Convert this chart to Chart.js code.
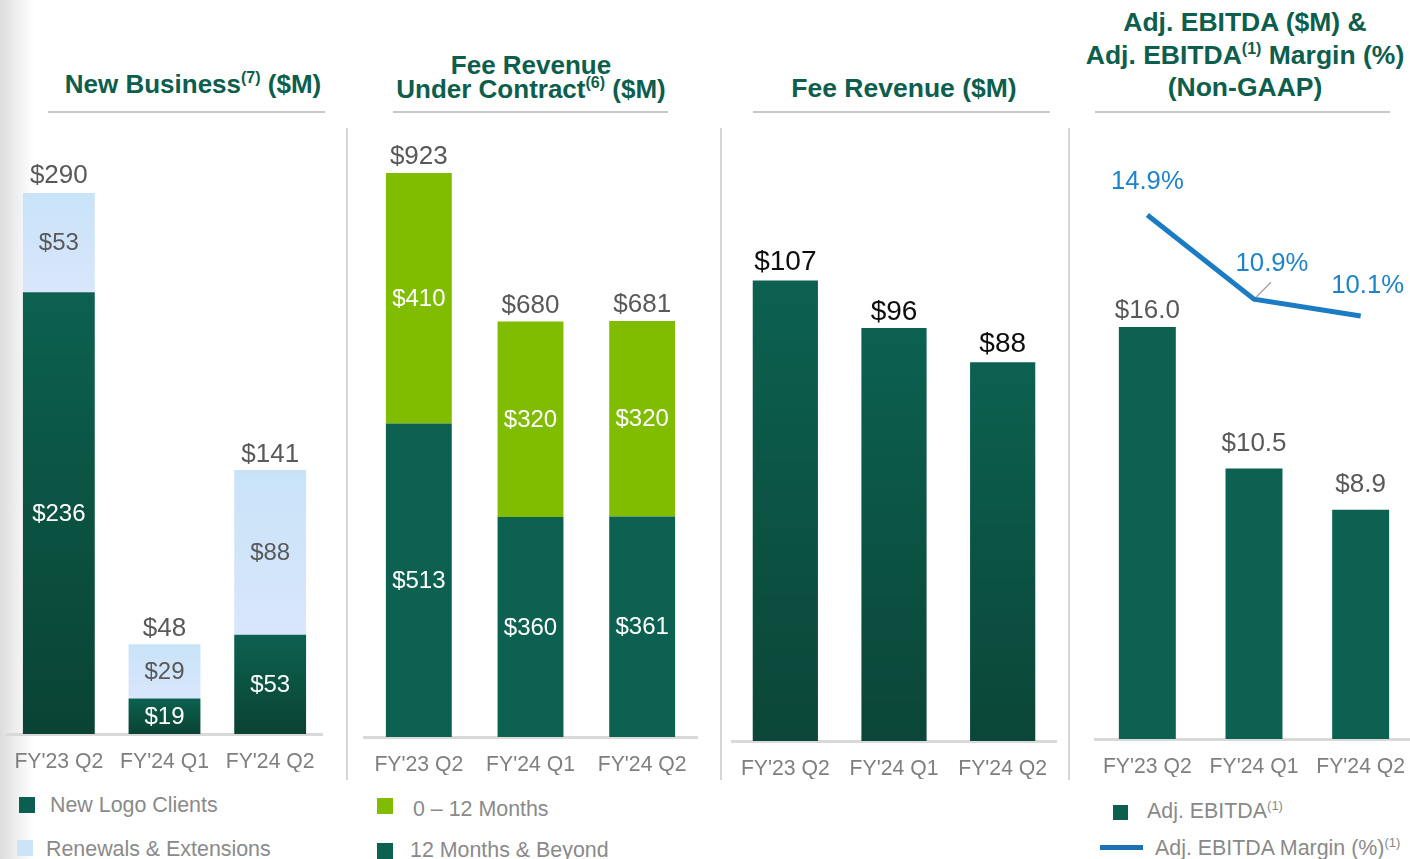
<!DOCTYPE html>
<html>
<head>
<meta charset="utf-8">
<script src="https://cdn.jsdelivr.net/npm/chart.js@4.4.1/dist/chart.umd.min.js"></script>
<style>
  body { margin: 0; width: 1410px; height: 859px; overflow: hidden; background: #fff; position: relative;
         font-family: "Liberation Sans", Arial, sans-serif; }
  .shadow { position: absolute; left: 0; top: 0; width: 34px; height: 859px;
            background: linear-gradient(to right, #dcdcdc 0%, #ececec 40%, rgba(255,255,255,0) 100%); }
  .title { position: absolute; width: 440px; text-align: center; color: #0d5e4d; font-weight: bold; white-space: nowrap; }
  .title sup { font-size: 16px; vertical-align: 10px; line-height: 0; }
  .rule { position: absolute; height: 2px; top: 111px; background: #c8c8c8; }
  .vsep { position: absolute; width: 2px; top: 128px; height: 652px; background: #d6d6d6; }
  canvas { position: absolute; }
  .lg { position: absolute; font-size: 21.4px; color: #8a8a8a; line-height: 24px; white-space: nowrap; }
  .lg sup { font-size: 13px; vertical-align: 8px; line-height: 0; }
  .sw { position: absolute; width: 16px; height: 16px; }
</style>
</head>
<body>
<div class="shadow"></div>

<div class="title" style="left:-27px; top:70px; font-size:26px; line-height:28px;">New Business<sup>(7)</sup> ($M)</div>
<div class="title" style="left:311px; top:53px; font-size:26px; line-height:24px;">Fee Revenue<br>Under Contract<sup>(6)</sup> ($M)</div>
<div class="title" style="left:684px; top:74px; font-size:26.5px; line-height:28px;">Fee Revenue ($M)</div>
<div class="title" style="left:1025px; top:6px; font-size:26.5px; line-height:32.5px;">Adj. EBITDA ($M) &amp;<br>Adj. EBITDA<sup>(1)</sup> Margin (%)<br>(Non-GAAP)</div>

<div class="rule" style="left:48px; width:277px;"></div>
<div class="rule" style="left:393px; width:275px;"></div>
<div class="rule" style="left:753px; width:297px;"></div>
<div class="rule" style="left:1095px; width:295px;"></div>

<div class="vsep" style="left:346px;"></div>
<div class="vsep" style="left:720px;"></div>
<div class="vsep" style="left:1068px;"></div>

<canvas id="c1" width="317" height="642" style="left:6px; top:130px;"></canvas>
<canvas id="c2" width="335" height="645" style="left:363px; top:130px;"></canvas>
<canvas id="c3" width="326" height="649" style="left:731px; top:130px;"></canvas>
<canvas id="c4" width="320" height="647" style="left:1094px; top:130px;"></canvas>

<div class="sw" style="left:19px; top:797px; background:#0c5e4e;"></div>
<div class="lg" style="left:50px; top:793px;">New Logo Clients</div>
<div class="sw" style="left:17px; top:840px; background:#cbe4f8;"></div>
<div class="lg" style="left:46px; top:837px;">Renewals &amp; Extensions</div>

<div class="sw" style="left:377px; top:798px; background:#80bc00;"></div>
<div class="lg" style="left:413px; top:797px;">0 – 12 Months</div>
<div class="sw" style="left:377px; top:843px; background:#0c6150;"></div>
<div class="lg" style="left:410px; top:838px;">12 Months &amp; Beyond</div>

<div class="sw" style="left:1113px; top:805px; width:15px; height:15px; background:#0c5e4e;"></div>
<div class="lg" style="left:1147px; top:799px;">Adj. EBITDA<sup>(1)</sup></div>
<div style="position:absolute; left:1100px; top:845px; width:43px; height:5px; background:#1d71b5;"></div>
<div class="lg" style="left:1155px; top:836px;">Adj. EBITDA Margin (%)<sup>(1)</sup></div>

<script>
var quarters = ["FY'23 Q2", "FY'24 Q1", "FY'24 Q2"];

// New Business ($M)
var newLogoClients = [236, 19, 53];
var renewalsExtensions = [53, 29, 88];
var newBusinessTotals = [290, 48, 141];

// Fee Revenue Under Contract ($M)
var beyond12Months = [513, 360, 361];
var within12Months = [410, 320, 320];
var contractTotals = [923, 680, 681];

// Fee Revenue ($M)
var feeRevenue = [107, 96, 88];

// Adj. EBITDA ($M) and margin (%)
var adjEbitda = [16.0, 10.5, 8.9];
var adjEbitdaMargin = [14.9, 10.9, 10.1];

var FONT = '"Liberation Sans", Arial, sans-serif';
Chart.defaults.font.family = FONT;
Chart.defaults.animation = false;

// vertical gradient for each bar segment, worked out from the y scale
function vgrad(topColor, bottomColor) {
  return function (ctx) {
    var chart = ctx.chart;
    if (ctx.type !== 'data' || !chart.chartArea) return topColor;
    var ys = chart.scales.y;
    var sets = chart.data.datasets;
    var lo = 0;
    for (var k = 0; k < ctx.datasetIndex; k++) {
      if (sets[k].type !== 'line') lo += sets[k].data[ctx.dataIndex];
    }
    var hi = lo + sets[ctx.datasetIndex].data[ctx.dataIndex];
    var g = chart.ctx.createLinearGradient(0, ys.getPixelForValue(hi), 0, ys.getPixelForValue(lo));
    g.addColorStop(0, topColor);
    g.addColorStop(1, bottomColor);
    return g;
  };
}

var valueLabels = {
  id: 'valueLabels',
  afterDatasetsDraw: function (chart, args, opts) {
    var c = chart.ctx;
    c.save();
    c.textAlign = 'center';
    c.textBaseline = 'middle';
    (opts.inside || []).forEach(function (st, i) {
      if (!st) return;
      var meta = chart.getDatasetMeta(i);
      c.font = st.font;
      c.fillStyle = st.color;
      meta.data.forEach(function (bar, j) {
        c.fillText(st.fmt(chart.data.datasets[i].data[j]), bar.x, (bar.y + bar.base) / 2 + 1);
      });
    });
    if (opts.totals) {
      var t = opts.totals;
      var top = chart.getDatasetMeta(t.dataset);
      c.font = t.font;
      c.fillStyle = t.color;
      top.data.forEach(function (bar, j) {
        var gap = Array.isArray(t.gap) ? t.gap[j] : t.gap;
        c.fillText(t.fmt(t.values[j]), bar.x, bar.y - gap);
      });
    }
    if (opts.points) {
      var p = opts.points;
      var lm = chart.getDatasetMeta(p.dataset);
      lm.data.forEach(function (pt, j) {
        var off = p.offsets[j];
        if (off[2]) {
          c.strokeStyle = '#a6a6a6';
          c.lineWidth = 1.5;
          c.beginPath();
          c.moveTo(pt.x + 2, pt.y - 2);
          c.lineTo(pt.x + 17, pt.y - 17);
          c.stroke();
        }
        c.font = p.font;
        c.fillStyle = p.color;
        c.fillText(p.fmt(chart.data.datasets[p.dataset].data[j]), pt.x + off[0], pt.y + off[1]);
      });
    }
    c.restore();
  }
};

function xAxis() {
  return {
    grid: { display: false, drawTicks: true, tickLength: 15 },
    border: { display: true, color: '#d9d9d9', width: 3 },
    ticks: { color: '#7f7f7f', font: { size: 21.2 }, padding: 0 },
    afterFit: function (s) { s.height = 38; }
  };
}

function dollars(v) { return '$' + v; }

var insideFont = '24px ' + FONT;
var totalFont = '26px ' + FONT;

new Chart(document.getElementById('c1'), {
  type: 'bar',
  data: {
    labels: quarters,
    datasets: [
      { label: 'New Logo Clients', data: newLogoClients, backgroundColor: vgrad('#0c6150', '#0a4334') },
      { label: 'Renewals & Extensions', data: renewalsExtensions, backgroundColor: vgrad('#c8e3f8', '#d9e6fb') }
    ]
  },
  options: {
    responsive: false,
    layout: { padding: 0 },
    datasets: { bar: { barPercentage: 0.68, categoryPercentage: 1 } },
    scales: {
      x: Object.assign(xAxis(), { stacked: true }),
      y: { stacked: true, display: false, min: 0, max: 322.6 }
    },
    plugins: {
      legend: { display: false }, tooltip: { enabled: false },
      valueLabels: {
        inside: [
          { color: '#ffffff', font: insideFont, fmt: dollars },
          { color: '#595959', font: insideFont, fmt: dollars }
        ],
        totals: { dataset: 1, values: newBusinessTotals, color: '#595959', font: totalFont, gap: [17, 15, 15], fmt: dollars }
      }
    }
  },
  plugins: [valueLabels]
});

new Chart(document.getElementById('c2'), {
  type: 'bar',
  data: {
    labels: quarters,
    datasets: [
      { label: '12 Months & Beyond', data: beyond12Months, backgroundColor: '#0c6150' },
      { label: '0 – 12 Months', data: within12Months, backgroundColor: '#80bc00' }
    ]
  },
  options: {
    responsive: false,
    layout: { padding: 0 },
    datasets: { bar: { barPercentage: 0.59, categoryPercentage: 1 } },
    scales: {
      x: Object.assign(xAxis(), { stacked: true }),
      y: { stacked: true, display: false, min: 0, max: 993.4 }
    },
    plugins: {
      legend: { display: false }, tooltip: { enabled: false },
      valueLabels: {
        inside: [
          { color: '#ffffff', font: insideFont, fmt: dollars },
          { color: '#ffffff', font: insideFont, fmt: dollars }
        ],
        totals: { dataset: 1, values: contractTotals, color: '#595959', font: totalFont, gap: 16, fmt: dollars }
      }
    }
  },
  plugins: [valueLabels]
});

new Chart(document.getElementById('c3'), {
  type: 'bar',
  data: {
    labels: quarters,
    datasets: [
      { label: 'Fee Revenue', data: feeRevenue, backgroundColor: vgrad('#0c6150', '#0b4638') }
    ]
  },
  options: {
    responsive: false,
    layout: { padding: 0 },
    datasets: { bar: { barPercentage: 0.6, categoryPercentage: 1 } },
    scales: {
      x: xAxis(),
      y: { display: false, min: 0, max: 142 }
    },
    plugins: {
      legend: { display: false }, tooltip: { enabled: false },
      valueLabels: {
        totals: { dataset: 0, values: feeRevenue, color: '#0d0d0d', font: '28px ' + FONT, gap: [18, 16, 18], fmt: dollars }
      }
    }
  },
  plugins: [valueLabels]
});

new Chart(document.getElementById('c4'), {
  type: 'bar',
  data: {
    labels: quarters,
    datasets: [
      { type: 'line', label: 'Adj. EBITDA Margin (%)', data: adjEbitdaMargin, yAxisID: 'y2',
        borderColor: '#1b7cc3', borderWidth: 5, pointRadius: 0, tension: 0, order: 0 },
      { label: 'Adj. EBITDA', data: adjEbitda, backgroundColor: '#0c6150', order: 1 }
    ]
  },
  options: {
    responsive: false,
    layout: { padding: 0 },
    datasets: { bar: { barPercentage: 0.534, categoryPercentage: 1 } },
    scales: {
      x: xAxis(),
      y: { display: false, min: 0, max: 23.65 },
      y2: { display: false, min: -10, max: 18.94 }
    },
    plugins: {
      legend: { display: false }, tooltip: { enabled: false },
      valueLabels: {
        totals: { dataset: 1, values: adjEbitda, color: '#595959', font: totalFont, gap: [16, 25, 25],
                  fmt: function (v) { return '$' + v.toFixed(1); } },
        points: { dataset: 0, color: '#1f83c9', font: '25.7px ' + FONT,
                  offsets: [[0, -33], [18, -35, true], [7, -30]],
                  fmt: function (v) { return v.toFixed(1) + '%'; } }
      }
    }
  },
  plugins: [valueLabels]
});
</script>
</body>
</html>
